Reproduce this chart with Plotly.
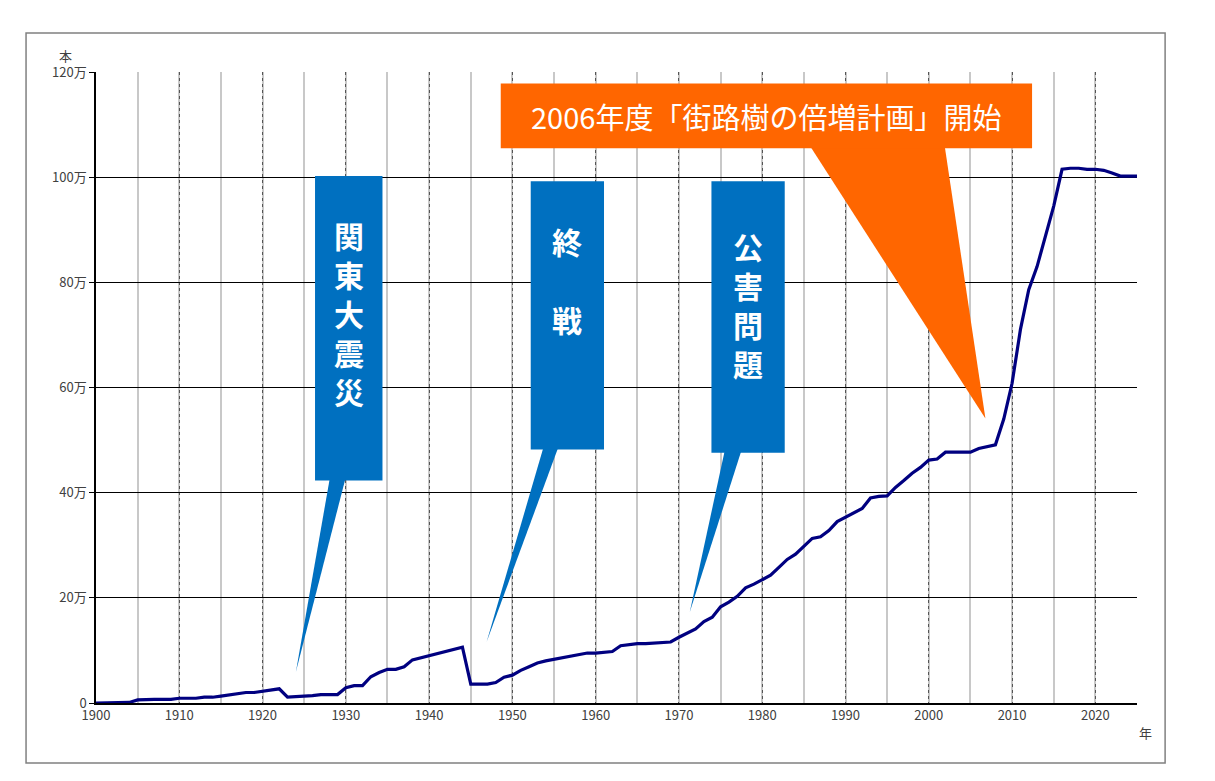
import plotly.graph_objects as go

# 街路樹の本数 (万本)
years = list(range(1900, 2026))
trees = [
    0, 0, 0, 0, 0.1, 0.6, 0.7, 0.7, 0.7, 0.7,
    0.9, 0.9, 0.9, 1.1, 1.1, 1.3, 1.5, 1.8, 2.0, 2.0,
    2.2, 2.4, 2.7, 1.1, 1.2, 1.2, 1.4, 1.6, 1.6, 1.6,
    2.9, 3.3, 3.3, 5.0, 5.8, 6.4, 6.4, 6.9, 8.2, 8.6,
    8.9, 9.3, 9.8, 10.1, 10.6, 3.6, 3.6, 3.6, 3.9, 4.9,
    5.3, 6.2, 6.9, 7.6, 8.0, 8.3, 8.6, 8.8, 9.1, 9.5,
    9.5, 9.7, 9.8, 10.9, 11.1, 11.3, 11.3, 11.4, 11.6, 11.6,
    12.5, 13.3, 14.1, 15.5, 16.3, 18.3, 19.2, 20.3, 21.9, 22.6,
    23.5, 24.3, 25.8, 27.3, 28.3, 29.7, 31.3, 31.6, 32.8, 34.5,
    35.3, 36.2, 37.0, 39.0, 39.3, 39.4, 41.0, 42.3, 43.7, 44.8,
    46.2, 46.4, 47.7, 47.7, 47.7, 47.7, 48.4, 48.7, 49.1, 54.0,
    60.8, 71.0, 78.6, 83.0, 88.5, 94.5, 101.5, 101.7, 101.7, 101.5,
    101.5, 101.3, 100.8, 100.2, 100.2, 100.2,
]
y_ticks = [0, 20, 40, 60, 80, 100, 120]
y_labels = ["0", "20万", "40万", "60万", "80万", "100万", "120万"]
x_ticks = list(range(1900, 2021, 10))

FONT = "Noto Sans CJK JP"
BLUE = "#0070c0"
ORANGE = "#ff6600"

fig = go.Figure()
fig.add_trace(go.Scatter(x=years, y=trees, mode="lines",
                         line=dict(color="#000080", width=3.2), hoverinfo="skip"))


def callout(box, tail, color):
    # box: (x0, x1, y0, y1) tail: (xa, xb, yb, tip_x, tip_y)
    x0, x1, y0, y1 = box
    xa, xb, yb, tx, ty = tail
    fig.add_shape(type="path", xref="x", yref="y", line=dict(width=0), fillcolor=color,
                  path=f"M {xa},{yb} L {tx},{ty} L {xb},{yb} Z", layer="above")
    fig.add_shape(type="rect", xref="x", yref="y", x0=x0, x1=x1, y0=y0, y1=y1,
                  line=dict(width=0), fillcolor=color, layer="above")


callout((1926.3, 1934.4, 42.3, 100.2), (1928.1, 1930.0, 43, 1924.0, 5.9), BLUE)
callout((1952.2, 1961.0, 48.2, 99.2), (1953.8, 1955.6, 49, 1946.9, 11.6), BLUE)
callout((1973.9, 1982.7, 47.6, 99.2), (1975.5, 1977.5, 48, 1971.3, 17.3), BLUE)
callout((1948.6, 2012.4, 105.5, 117.8), (1985.7, 2001.9, 106, 2006.8, 54.1), ORANGE)

vert = dict(font=dict(family=FONT, size=30, color="white"), showarrow=False,
            xref="x", yref="y", yanchor="top")
fig.add_annotation(x=1930.35, y=93.5, text="<b>関<br>東<br>大<br>震<br>災</b>", **vert)
fig.add_annotation(x=1956.6, y=92.5, text="<b>終<br><br>戦</b>", **vert)
fig.add_annotation(x=1978.3, y=91.5, text="<b>公<br>害<br>問<br>題</b>", **vert)
fig.add_annotation(x=1980.5, y=111.7, text="2006年度「街路樹の倍増計画」開始",
                   font=dict(family=FONT, size=29, color="white"), showarrow=False,
                   xref="x", yref="y")

small = dict(family=FONT, size=13, color="#404040")
fig.add_annotation(x=-0.037, y=1.045, xref="paper", yref="paper", text="本",
                   showarrow=False, font=small)
fig.add_annotation(x=1.0, y=-0.065, xref="paper", yref="paper", text="年",
                   showarrow=False, font=small, xanchor="left")

# outer frame
fig.add_shape(type="rect", xref="paper", yref="paper", x0=-0.0672, x1=1.027,
              y0=-0.095, y1=1.062, line=dict(color="#808080", width=1.5))

fig.update_xaxes(range=[1900, 2025], tickvals=x_ticks, showgrid=True,
                 gridcolor="#555555", griddash="dot", gridwidth=1,
                 minor=dict(dtick=5, showgrid=True, gridcolor="#c8c8c8",
                            gridwidth=1.5, griddash="solid"),
                 showline=True, linecolor="black", linewidth=1.5,
                 ticks="", tickfont=small, zeroline=False)
fig.update_yaxes(range=[0, 120], tickvals=y_ticks, ticktext=y_labels,
                 showgrid=True, gridcolor="black", gridwidth=1,
                 showline=True, linecolor="black", linewidth=1.5,
                 ticks="outside", ticklen=5, tickcolor="black",
                 tickfont=small, zeroline=False)
fig.update_layout(width=1215, height=781, showlegend=False,
                  plot_bgcolor="white", paper_bgcolor="white",
                  margin=dict(l=88, r=86, t=64, b=86))
fig.write_html("out.html")
